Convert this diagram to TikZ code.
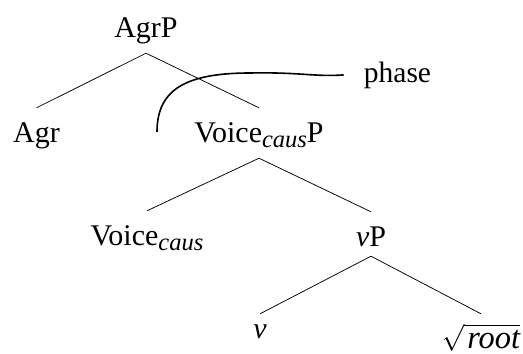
\documentclass[tikz,border=0pt]{standalone}
\usepackage{fontspec}
\setmainfont{Liberation Serif}
\begin{document}
\begin{tikzpicture}[x=1pt,y=-1pt,
  lbl/.style={anchor=base, inner sep=0pt, text height=34pt, text depth=16pt, font=\fontsize{30}{32}\selectfont},
  edge/.style={line width=0.75pt},
  phaseline/.style={line width=1.6pt}]
\newcommand{\subc}{\raisebox{-5.5pt}{\fontsize{24.5}{26}\selectfont\itshape caus}}
\useasboundingbox (0,0) rectangle (523,354);
\node[lbl] (AgrP) at (146,37) {AgrP};
\node[lbl] (Agr) at (36.5,142) {Agr};
\node[lbl] (VP) at (259,142) {Voice\subc P};
\node[lbl] (Vc) at (147,245) {Voice\subc};
\node[lbl, text depth=10pt] (vP) at (371,246) {\textit{v}P};
\node[lbl, text height=24pt] (v) at (260,338) {\textit{v}};
\node[lbl, text height=34pt] (root) at (481,348) {\scalebox{1.08}{$\sqrt{\mkern2mu\textit{root}}$}};
\node[anchor=base, inner ysep=0pt, inner xsep=20pt, font=\fontsize{29.5}{32}\selectfont] (phase) at (397.5,82) {phase};
\coordinate (c0) at (157,132);
\draw[edge] (AgrP.south) -- (Agr.north);
\draw[edge] (AgrP.south) -- (VP.north);
\draw[edge] (VP.south) -- (Vc.north);
\draw[edge] (VP.south) -- (vP.north);
\draw[edge] (vP.south) -- (v.north);
\draw[edge] (vP.south) -- (root.north);
\draw[phaseline] (c0) .. controls (157,90) and (185,73) .. (250,73) .. controls (300,72) and (315,77) .. (phase.west);
\end{tikzpicture}
\end{document}
